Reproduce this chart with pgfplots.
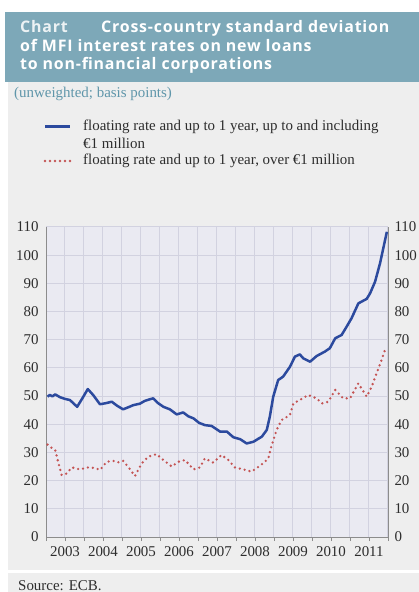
\documentclass[border=0pt]{standalone}
\usepackage{fontspec}
\setmainfont{Liberation Serif}
\newfontfamily\titlefont[LetterSpace=5]{Open Sans}
\usepackage{pgfplots}
\pgfplotsset{compat=1.18}

\definecolor{banner}{RGB}{125,168,184}
\definecolor{panel}{RGB}{238,238,238}
\definecolor{plotbg}{RGB}{234,234,242}
\definecolor{gridc}{RGB}{210,210,224}
\definecolor{axisc}{RGB}{140,140,140}
\definecolor{blueline}{RGB}{44,74,158}
\definecolor{reddot}{RGB}{196,84,84}
\definecolor{subt}{RGB}{95,150,170}
\definecolor{txt}{RGB}{45,45,45}

\begin{document}
\begin{tikzpicture}
\useasboundingbox (0,0) rectangle (419bp,592bp);
\fill[white] (0,0) rectangle (419bp,592bp);
\fill[panel] (8bp,22bp) rectangle (419bp,512bp);
\fill[panel] (8bp,0bp) rectangle (419bp,19bp);
\fill[banner] (5bp,510bp) rectangle (419bp,580bp);

% title
\begin{scope}[every node/.style={anchor=base west, inner sep=0, text=white,
    font=\titlefont\bfseries\fontsize{16}{18}\selectfont}]
  \node[text=white!85!banner] at (20bp,559bp) {Chart};
  \node at (101bp,559bp) {Cross-country standard deviation};
  \node at (20bp,540.5bp) {of MFI interest rates on new loans};
  \node at (20bp,522bp) {to non-financial corporations};
\end{scope}

\node[anchor=base west, inner sep=0, text=subt, font=\fontsize{15}{17}\selectfont]
  at (14bp,494bp) {(unweighted; basis points)};

% legend
\draw[blueline, line width=2.5bp] (45bp,465.3bp) -- (70bp,465.3bp);
\draw[reddot, line width=2.6bp, line cap=round, dash pattern=on 0pt off 5bp] (45bp,431bp) -- (70bp,431bp);
\begin{scope}[every node/.style={anchor=base west, inner sep=0, text=txt,
    font=\fontsize{15}{17}\selectfont}]
  \node at (83bp,461.5bp) {floating rate and up to 1 year, up to and including};
  \node at (83bp,443.5bp) {€1 million};
  \node at (83bp,427bp) {floating rate and up to 1 year, over €1 million};
\end{scope}

\node[anchor=base west, inner sep=0, text=txt, font=\fontsize{15}{17}\selectfont]
  at (18bp,2bp) {Source: ECB.};

\begin{axis}[
  at={(46bp,55bp)}, anchor=south west,
  scale only axis, width=342bp, height=310bp,
  xmin=2003, xmax=2012, ymin=0, ymax=110,
  axis background/.style={fill=plotbg},
  axis x line*=bottom, axis y line*=left,
  axis line style={axisc, line width=0.8bp},
  xtick={2003.5,2004.5,...,2011.5},
  xticklabels={2003,2004,2005,2006,2007,2008,2009,2010,2011},
  minor xtick={2003,2004,...,2012},
  ytick={0,10,...,110},
  grid=both,
  major grid style={gridc, line width=1bp},
  minor grid style={gridc, line width=1bp},
  tick align=outside,
  major tick length=4bp, minor tick length=4bp,
  xtick style={axisc, line width=0.7bp},
  ytick style={draw=none},
  ticklabel style={text=txt, font=\fontsize{15}{17}\selectfont},
  /pgf/number format/assume math mode=true,
  xticklabel style={yshift=-2bp},
]
\addplot[blueline, line width=2.5bp, line join=round] coordinates {
(2003.04,49.8)(2003.10,50.4)(2003.17,49.9)(2003.24,50.6)(2003.37,49.6)(2003.50,49.0)
(2003.63,48.6)(2003.82,46.2)(2003.97,49.5)(2004.10,52.5)(2004.24,50.4)(2004.42,47.1)
(2004.58,47.5)(2004.73,48.0)(2004.88,46.5)(2005.03,45.3)(2005.16,46.0)(2005.30,46.8)
(2005.47,47.3)(2005.60,48.3)(2005.74,48.9)(2005.82,49.2)(2005.95,47.5)(2006.09,46.2)
(2006.26,45.3)(2006.44,43.5)(2006.61,44.2)(2006.75,42.8)(2006.88,42.1)(2007.03,40.5)
(2007.18,39.7)(2007.36,39.4)(2007.58,37.4)(2007.76,37.4)(2007.93,35.4)(2008.11,34.7)
(2008.28,33.2)(2008.46,33.8)(2008.58,34.8)(2008.68,35.6)(2008.81,38.0)(2008.89,42.7)
(2008.98,49.8)(2009.11,55.7)(2009.24,56.9)(2009.42,60.4)(2009.55,64.0)(2009.68,64.8)
(2009.77,63.4)(2009.95,62.2)(2010.12,64.2)(2010.34,65.8)(2010.47,67.0)(2010.61,70.5)
(2010.78,71.7)(2010.91,74.6)(2011.04,77.6)(2011.22,82.9)(2011.44,84.5)(2011.53,86.5)
(2011.66,90.6)(2011.79,97.1)(2011.97,108.3)
};
\addplot[reddot, line width=2.6bp, line cap=round, dash pattern=on 0pt off 5bp] coordinates {
(2003.04,32.8)(2003.13,31.8)(2003.24,30.9)(2003.32,26.7)(2003.41,22.0)(2003.54,22.5)
(2003.68,24.7)(2003.89,24.0)(2004.11,24.7)(2004.28,24.5)(2004.42,23.8)(2004.60,26.7)
(2004.77,27.0)(2004.90,26.5)(2005.03,27.0)(2005.17,24.8)(2005.34,21.6)(2005.52,26.1)
(2005.69,28.5)(2005.91,29.4)(2006.09,27.3)(2006.31,25.0)(2006.48,26.7)(2006.66,27.3)
(2006.88,24.0)(2007.05,24.7)(2007.18,27.9)(2007.40,26.4)(2007.62,29.1)(2007.80,27.3)
(2007.97,24.7)(2008.19,24.0)(2008.41,23.2)(2008.54,24.4)(2008.72,26.2)(2008.85,27.9)
(2008.94,32.6)(2009.07,38.0)(2009.20,41.5)(2009.42,43.3)(2009.51,47.4)(2009.68,48.6)
(2009.90,50.4)(2010.12,49.2)(2010.26,47.4)(2010.43,48.0)(2010.61,52.2)(2010.82,49.2)
(2011.00,49.2)(2011.22,54.5)(2011.44,49.8)(2011.57,53.3)(2011.70,58.1)(2011.83,62.8)
(2011.92,66.4)
};
\end{axis}

% right-hand scale
\begin{axis}[
  at={(46bp,55bp)}, anchor=south west,
  scale only axis, width=342bp, height=310bp,
  xmin=2003, xmax=2012, ymin=0, ymax=110,
  axis x line=none, axis y line*=right,
  axis line style={axisc, line width=0.8bp},
  ytick={0,10,...,110},
  ytick style={draw=none},
  yticklabel style={text=txt, font=\fontsize{15}{17}\selectfont, xshift=3bp},
  /pgf/number format/assume math mode=true,
]
\end{axis}
\end{tikzpicture}
\end{document}
